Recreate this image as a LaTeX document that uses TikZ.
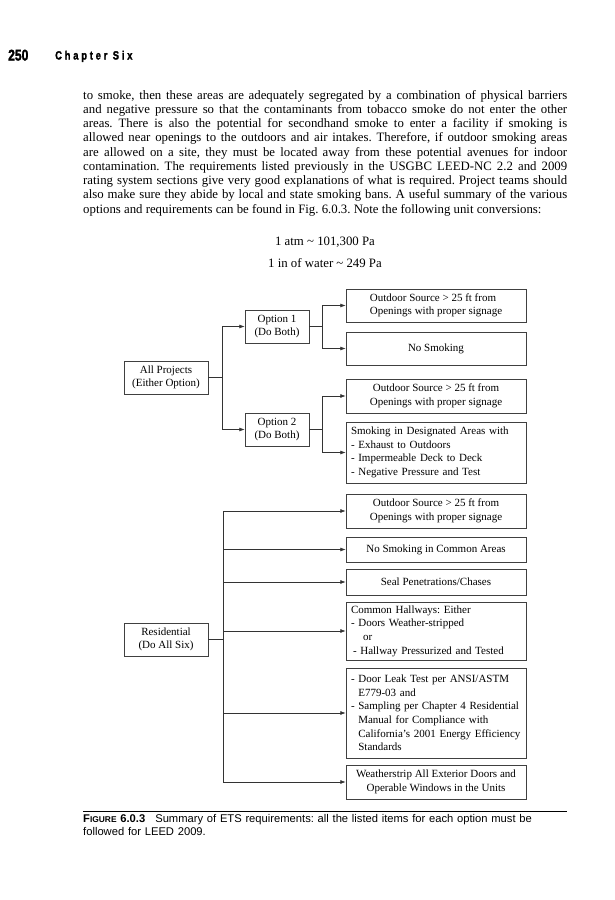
\documentclass[tikz,border=0pt]{standalone}
\usepackage{fontspec}
\usepackage{graphicx}
\setmainfont{Liberation Serif}
\newfontfamily\headfont{Liberation Sans}
\usetikzlibrary{arrows.meta,shadows}
\frenchspacing

\tikzset{
  box/.style={draw=black!75, fill=white, line width=0.5pt, inner sep=0pt,
    font=\fontsize{11}{13.6}\selectfont, align=center,
    drop shadow={shadow xshift=0.9pt, shadow yshift=-0.9pt, opacity=1, fill=black!40}},
  lbox/.style={box, minimum width=84pt, minimum height=33pt},
  obox/.style={box, minimum width=64pt, minimum height=33pt},
  rbox/.style={box, minimum width=180pt},
  listbox/.style={rbox, text width=170pt, align=left},
  trunk/.style={draw=black!80, line width=0.6pt},
  conn/.style={trunk, -{Latex[length=5.5pt,width=4pt]}}
}

\begin{document}
\begin{tikzpicture}[x=1pt, y=-1pt]
  \fill[white] (0,0) rectangle (614,900);
  \useasboundingbox (0,0) rectangle (614,900);

  % running head
  \node[anchor=base west, inner sep=0pt, font=\headfont\bfseries\fontsize{15.5}{16}\selectfont]
    (pgnum) at (8,60.5) {\scalebox{0.78}[1]{\addfontfeature{FakeBold=2}250}};
  \node[anchor=base west, inner sep=0pt, font=\headfont\bfseries\fontsize{12}{12}\selectfont]
    (chap) at (55,59.5) {\scalebox{0.78}[1]{\addfontfeature{LetterSpace=30,FakeBold=2}Chapter Six}};

  % body text
  \node[anchor=north west, inner sep=0pt, text width=484pt, align=justify,
    font=\fontsize{12.8}{14.25}\selectfont] (body) at (83,89.8)
    {to smoke, then these areas are adequately segregated by a combination of physical barriers\linebreak
     and negative pressure so that the contaminants from tobacco smoke do not enter the other\linebreak
     areas. There is also the potential for secondhand smoke to enter a facility if smoking is\linebreak
     allowed near openings to the outdoors and air intakes. Therefore, if outdoor smoking areas\linebreak
     are allowed on a site, they must be located away from these potential avenues for indoor\linebreak
     contamination. The requirements listed previously in the USGBC LEED-NC 2.2 and 2009\linebreak
     rating system sections give very good explanations of what is required. Project teams should\linebreak
     also make sure they abide by local and state smoking bans. A useful summary of the various\linebreak
     options and requirements can be found in Fig. 6.0.3. Note the following unit conversions:};
  \node[anchor=base, inner sep=0pt, font=\fontsize{12.8}{14}\selectfont] (atm) at (325,245.5)
    {1 atm \textasciitilde{} 101,300 Pa};
  \node[anchor=base, inner sep=0pt, font=\fontsize{12.8}{14}\selectfont] (water) at (325,267.5)
    {1 in of water \textasciitilde{} 249 Pa};

  % all projects
  \node[lbox] (allproj) at (166,377.5) {All Projects\\(Either Option)};
  \node[obox] (opt1) at (277,326.5) {Option 1\\(Do Both)};
  \node[obox] (opt2) at (277,429.5) {Option 2\\(Do Both)};
  \node[rbox, minimum height=33pt, align=left] (o1src) at (436,305.5)
    {Outdoor Source > 25 ft from\\Openings with proper signage};
  \node[rbox, minimum height=33pt] (o1nosmk) at (436,348.5) {No Smoking};
  \node[rbox, minimum height=34pt] (o2src) at (436,396)
    {Outdoor Source > 25 ft from\\Openings with proper signage};
  \node[listbox, minimum height=61pt] (o2desig) at (436,452.5)
    {Smoking in Designated Areas with\\- Exhaust to Outdoors\\- Impermeable Deck to Deck\\- Negative Pressure and Test};

  \coordinate (jall) at (222,377.5);
  \coordinate (jopt1) at (322,326.5);
  \coordinate (jopt2) at (322,429.5);
  \draw[trunk] (allproj.east) -- (jall);
  \draw[conn] (jall) |- (opt1);
  \draw[conn] (jall) |- (opt2);
  \draw[trunk] (opt1.east) -- (jopt1);
  \draw[conn] (jopt1) |- (o1src);
  \draw[conn] (jopt1) |- (o1nosmk);
  \draw[trunk] (opt2.east) -- (jopt2);
  \draw[conn] (jopt2) |- (o2src);
  \draw[conn] (jopt2) |- (o2desig);

  % residential
  \node[lbox] (resid) at (166,639.5) {Residential\\(Do All Six)};
  \node[rbox, minimum height=34pt] (rsrc) at (436,511)
    {Outdoor Source > 25 ft from\\Openings with proper signage};
  \node[rbox, minimum height=25pt] (rnosmk) at (436,549.5) {No Smoking in Common Areas};
  \node[rbox, minimum height=26pt] (rseal) at (436,582) {Seal Penetrations/Chases};
  \node[listbox, minimum height=58pt] (rhall) at (436,631)
    {Common Hallways: Either\\- Doors Weather-stripped\\\hspace*{12pt}or\\\hspace*{2pt}- Hallway Pressurized and Tested};
  \node[listbox, minimum height=90pt] (rleak) at (436,713)
    {- Door Leak Test per ANSI/ASTM\\\hphantom{- }E779-03 and\\- Sampling per Chapter 4 Residential\\
     \hphantom{- }Manual for Compliance with\\\hphantom{- }California's 2001 Energy Efficiency\\\hphantom{- }Standards};
  \node[rbox, minimum height=34pt] (rweather) at (436,782)
    {Weatherstrip All Exterior Doors and\\Operable Windows in the Units};

  \coordinate (jres) at (223,639.5);
  \draw[trunk] (resid.east) -- (jres);
  \draw[conn] (jres) |- (rsrc);
  \draw[conn] (jres) |- (rnosmk);
  \draw[conn] (jres) |- (rseal);
  \draw[conn] (jres) |- (rhall);
  \draw[conn] (jres) |- (rleak);
  \draw[conn] (jres) |- (rweather);

  % caption
  \draw[line width=0.8pt] (83,811) -- (567,811);
  \node[anchor=north west, inner sep=0pt, text width=484pt, align=left,
    font=\headfont\fontsize{11.2}{13}\selectfont] (cap) at (83,814.5)
    {{\bfseries F{\fontsize{8.4}{13}\selectfont IGURE} 6.0.3}\hspace{10pt}Summary of ETS requirements: all the listed items for each option must be\\
     followed for LEED 2009.};
\end{tikzpicture}
\end{document}
